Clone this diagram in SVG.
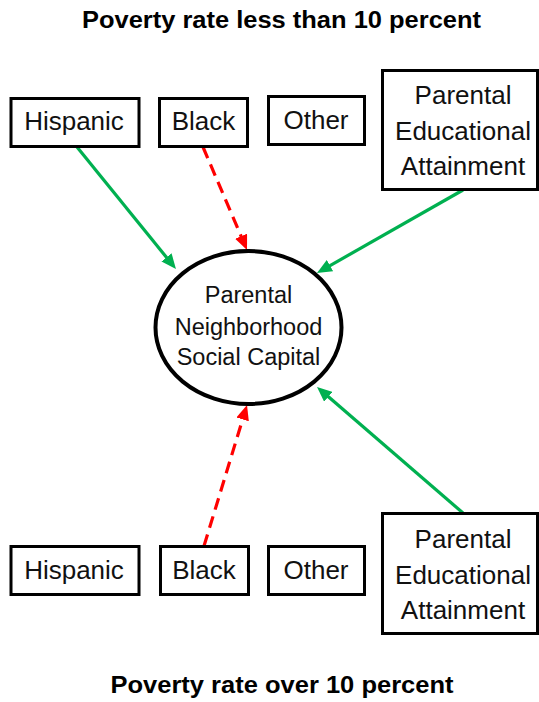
<svg xmlns="http://www.w3.org/2000/svg" width="539" height="702" viewBox="0 0 539 702">
  <style>
    .box { fill: #ffffff; stroke: #000000; stroke-width: 3; }
    .oval { fill: #ffffff; stroke: #000000; stroke-width: 4; }
    .lbl { font-family: "Liberation Sans", Arial, sans-serif; font-size: 26px; fill: #111111; text-anchor: middle; }
    .olbl { font-family: "Liberation Sans", Arial, sans-serif; font-size: 23.5px; fill: #111111; text-anchor: middle; }
    .title { font-family: "Liberation Sans", Arial, sans-serif; font-size: 23px; font-weight: bold; fill: #000000; text-anchor: middle; }
    .pos { stroke: #00b050; stroke-width: 3.2; fill: none; marker-end: url(#headG); }
    .neg { stroke: #ff0000; stroke-width: 3.2; fill: none; stroke-dasharray: 12 7; marker-end: url(#headR); }
  </style>
  <defs>
    <marker id="headG" markerUnits="userSpaceOnUse" markerWidth="15" markerHeight="13" refX="3" refY="6.5" orient="auto">
      <path d="M0,0 L15,6.5 L0,13 z" fill="#00b050"/>
    </marker>
    <marker id="headR" markerUnits="userSpaceOnUse" markerWidth="15" markerHeight="13" refX="3" refY="6.5" orient="auto">
      <path d="M0,0 L15,6.5 L0,13 z" fill="#ff0000"/>
    </marker>
  </defs>

  <rect width="539" height="702" fill="#ffffff"/>

  <text class="title" x="281.5" y="28" textLength="399" lengthAdjust="spacingAndGlyphs">Poverty rate less than 10 percent</text>
  <text class="title" x="282" y="693" textLength="343" lengthAdjust="spacingAndGlyphs">Poverty rate over 10 percent</text>

  <!-- arrows: each line stops 12px short of its tip; the marker supplies the rest -->
  <g id="connectors">
    <line class="pos" x1="77" y1="147" x2="168.4" y2="259.7"/>
    <line class="neg" x1="203" y1="147" x2="242.3" y2="239"/>
    <line class="pos" x1="463" y1="190" x2="327.4" y2="267.1"/>
    <line class="pos" x1="463" y1="513" x2="326.1" y2="394.8"/>
    <line class="neg" x1="204" y1="546" x2="243.5" y2="416.5"/>
  </g>

  <g id="hispanic-top">
    <rect class="box" x="11" y="98.5" width="128" height="48"/>
    <text class="lbl" x="74" y="130">Hispanic</text>
  </g>
  <g id="black-top">
    <rect class="box" x="159.5" y="98.5" width="88" height="48"/>
    <text class="lbl" x="203.5" y="130">Black</text>
  </g>
  <g id="other-top">
    <rect class="box" x="268.5" y="96.5" width="96" height="48"/>
    <text class="lbl" x="316" y="129">Other</text>
  </g>
  <g id="education-top">
    <rect class="box" x="382.5" y="70.5" width="155" height="119"/>
    <text class="lbl" x="463" y="104">Parental</text>
    <text class="lbl" x="463" y="140">Educational</text>
    <text class="lbl" x="463" y="175">Attainment</text>
  </g>

  <g id="social-capital">
    <ellipse class="oval" cx="248.5" cy="327.5" rx="93" ry="76.5"/>
    <text class="olbl" x="248.5" y="303">Parental</text>
    <text class="olbl" x="248.5" y="335">Neighborhood</text>
    <text class="olbl" x="248.5" y="365">Social Capital</text>
  </g>

  <g id="hispanic-bottom">
    <rect class="box" x="11" y="546.5" width="128" height="48"/>
    <text class="lbl" x="74" y="579">Hispanic</text>
  </g>
  <g id="black-bottom">
    <rect class="box" x="160.5" y="546.5" width="88" height="48"/>
    <text class="lbl" x="204" y="579">Black</text>
  </g>
  <g id="other-bottom">
    <rect class="box" x="268.5" y="546.5" width="96" height="48"/>
    <text class="lbl" x="316" y="579">Other</text>
  </g>
  <g id="education-bottom">
    <rect class="box" x="382.5" y="513.5" width="155" height="120"/>
    <text class="lbl" x="463" y="548">Parental</text>
    <text class="lbl" x="463" y="584">Educational</text>
    <text class="lbl" x="463" y="619">Attainment</text>
  </g>
</svg>
